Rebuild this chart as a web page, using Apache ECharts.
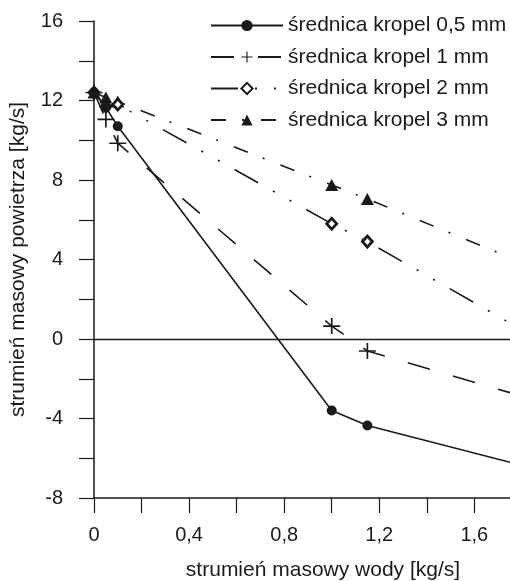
<!DOCTYPE html>
<html>
<head>
<meta charset="utf-8">
<script src="https://cdn.jsdelivr.net/npm/echarts@6/dist/echarts.min.js"></script>
<style>html,body{margin:0;padding:0;background:#fff;}#c{width:510px;height:581px;}</style>
</head>
<body>
<div id="c"></div>
<script>
// water mass flow [kg/s] (last point = where lines leave the visible plot)
const waterFlow = [0, 0.05, 0.1, 1.0, 1.15, 1.75];
// air mass flow [kg/s] per droplet diameter
const air05 = [12.4, 11.65, 10.7, -3.6, -4.35, -6.2];
const air1  = [12.4, 11.05, 9.85, 0.65, -0.6, -2.7];
const air2  = [12.4, 11.7, 11.8, 5.8, 4.9, 0.8];
const air3  = [12.4, 12.15, 11.95, 7.75, 7.05, 4.1];
const seriesNames = ['średnica kropel 0,5 mm', 'średnica kropel 1 mm', 'średnica kropel 2 mm', 'średnica kropel 3 mm'];
const xTickLabels = ['0', '0,4', '0,8', '1,2', '1,6'];
const yTickLabels = ['-8', '-4', '0', '4', '8', '12', '16'];

const FONT = '"Liberation Sans", Arial, sans-serif';
const INK = '#1a1a1a';

function pts(ys) {
  return waterFlow.map((x, i) => {
    const p = { value: [x, ys[i]] };
    if (i === waterFlow.length - 1) p.symbol = 'none';
    return p;
  });
}

const plusPath = 'path://M7.2,0h1.6v16h-1.6zM0,7.2h16v1.6h-16z';

const chart = echarts.init(document.getElementById('c'), null, { renderer: 'canvas' });
chart.setOption({
  animation: false,
  backgroundColor: '#fff',
  textStyle: { fontFamily: FONT, color: INK },
  grid: { left: 94, right: 0, top: 21, bottom: 83, containLabel: false, outerBoundsMode: 'none' },
  legend: {
    orient: 'vertical',
    left: 205,
    top: 10,
    itemWidth: 72,
    itemHeight: 14,
    itemGap: 10.5,
    textStyle: { fontFamily: FONT, fontSize: 21, color: INK, lineHeight: 20, padding: [0, 0, 0, 0] },
    data: seriesNames
  },
  xAxis: {
    type: 'value',
    min: 0, max: 1.75, interval: 0.2,
    name: 'strumień masowy wody [kg/s]',
    nameLocation: 'middle',
    nameGap: 62,
    nameTextStyle: { fontFamily: FONT, fontSize: 21, color: INK, padding: [0, 0, 0, 42] },
    axisLine: { onZero: false, lineStyle: { color: INK, width: 1.5 } },
    axisTick: { show: true, inside: false, length: 15, lineStyle: { color: INK, width: 1.2 } },
    splitLine: { show: false },
    axisLabel: {
      margin: 27, fontSize: 20, fontFamily: FONT, color: INK,
      showMaxLabel: false,
      formatter: v => {
        const k = Math.round(v / 0.4);
        if (Math.abs(v - k * 0.4) > 1e-6) return '';
        return xTickLabels[k] || '';
      }
    }
  },
  yAxis: {
    type: 'value',
    min: -8, max: 16, interval: 2,
    name: 'strumień masowy powietrza [kg/s]',
    nameLocation: 'middle',
    nameGap: 65,
    nameTextStyle: { fontFamily: FONT, fontSize: 21, color: INK },
    axisLine: { onZero: false, lineStyle: { color: INK, width: 1.5 } },
    axisTick: { show: true, inside: false, length: 15, lineStyle: { color: INK, width: 1.2 } },
    splitLine: { show: false },
    axisLabel: {
      margin: 31, fontSize: 20, fontFamily: FONT, color: INK,
      formatter: v => {
        if (v % 4 !== 0) return '';
        return yTickLabels[(v + 8) / 4];
      }
    }
  },
  series: [
    {
      name: seriesNames[0], type: 'line', data: pts(air05),
      symbol: 'circle', symbolSize: 10,
      itemStyle: { color: INK },
      lineStyle: { color: INK, width: 1.6, type: 'solid' },
      z: 5,
      markLine: {
        silent: true, symbol: ['none', 'none'], label: { show: false },
        lineStyle: { color: INK, width: 1.3, type: 'solid' },
        data: [{ yAxis: 0 }]
      }
    },
    {
      name: seriesNames[1], type: 'line', data: pts(air1),
      symbol: plusPath, symbolSize: [17, 16],
      itemStyle: { color: INK },
      lineStyle: { color: INK, width: 1.6, type: [23, 24] },
      z: 4
    },
    {
      name: seriesNames[2], type: 'line', data: pts(air2),
      symbol: 'diamond', symbolSize: [10, 11],
      itemStyle: { color: '#fff', borderColor: INK, borderWidth: 2.8 },
      lineStyle: { color: INK, width: 1.6, type: [27, 17, 2, 17, 2, 17] },
      z: 3
    },
    {
      name: seriesNames[3], type: 'line', data: pts(air3),
      symbol: 'triangle', symbolSize: [13, 12],
      itemStyle: { color: INK },
      lineStyle: { color: INK, width: 1.6, type: [15, 16, 2, 17] },
      z: 2
    }
  ]
});
</script>
</body>
</html>
